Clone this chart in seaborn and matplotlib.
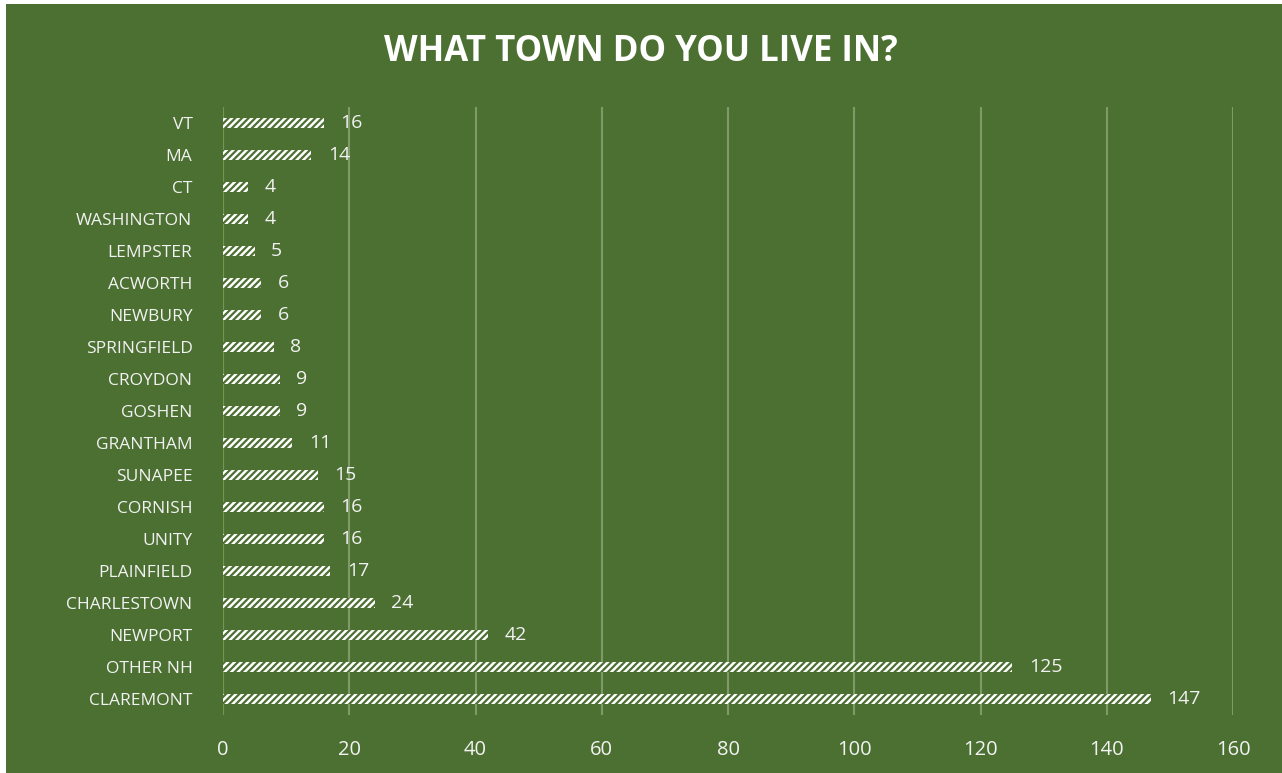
import matplotlib
matplotlib.use("Agg")
import matplotlib.pyplot as plt
import seaborn as sns
import pandas as pd
from matplotlib.patches import Rectangle

# data, top to bottom as in the chart
towns = ["VT", "MA", "CT", "WASHINGTON", "LEMPSTER", "ACWORTH", "NEWBURY",
         "SPRINGFIELD", "CROYDON", "GOSHEN", "GRANTHAM", "SUNAPEE", "CORNISH",
         "UNITY", "PLAINFIELD", "CHARLESTOWN", "NEWPORT", "OTHER NH", "CLAREMONT"]
counts = [16, 14, 4, 4, 5, 6, 6, 8, 9, 9, 11, 15, 16, 16, 17, 24, 42, 125, 147]
xticks = [0, 20, 40, 60, 80, 100, 120, 140, 160]

green = "#4C7032"
grid_c = "#7F9A68"
text_c = "#F2F2F2"

df = pd.DataFrame({"town": towns, "count": counts})

sns.set_theme(style="white")
plt.rcParams["font.family"] = ["Open Sans", "DejaVu Sans"]
plt.rcParams["hatch.linewidth"] = 1.6

fig = plt.figure(figsize=(12.82, 7.73), dpi=100)
fig.patch.set_facecolor("white")
fig.patches.append(Rectangle((6 / 1282, 0), 1, 1 - 4 / 773, transform=fig.transFigure,
                             facecolor=green, edgecolor="none", zorder=-10))

ax = fig.add_axes([223 / 1282, 1 - 715 / 773, 1010 / 1282, 608 / 773])
ax.set_facecolor("none")

sns.barplot(data=df, x="count", y="town", orient="h", color="white",
            width=0.34, ax=ax, zorder=3)

for p in ax.patches:
    p.set_facecolor("white")
    p.set_edgecolor(green)
    p.set_linewidth(0)
    p.set_hatch("/////")

ax.bar_label(ax.containers[0], padding=12, color=text_c, fontsize=14)

ax.set_xlim(0, 160)
ax.set_ylim(18.5, -0.5)
ax.set_xticks(xticks)
ax.xaxis.grid(True, color=grid_c, linewidth=1.5, zorder=0)
ax.set_axisbelow(True)
for s in ax.spines.values():
    s.set_visible(False)
ax.axvline(0, color="#6E9A4E", linewidth=1.5, zorder=1)

ax.tick_params(axis="x", colors=text_c, labelsize=14.5, length=0, pad=18)
ax.tick_params(axis="y", colors=text_c, labelsize=12.5, length=0, pad=22)
ax.set_xlabel("")
ax.set_ylabel("")

fig.text(0.5, 1 - 52 / 773, "WHAT TOWN DO YOU LIVE IN?", ha="center", va="center",
         color="white", fontsize=25, fontweight="bold")

fig.savefig("out.png", dpi=100, facecolor=fig.get_facecolor())
